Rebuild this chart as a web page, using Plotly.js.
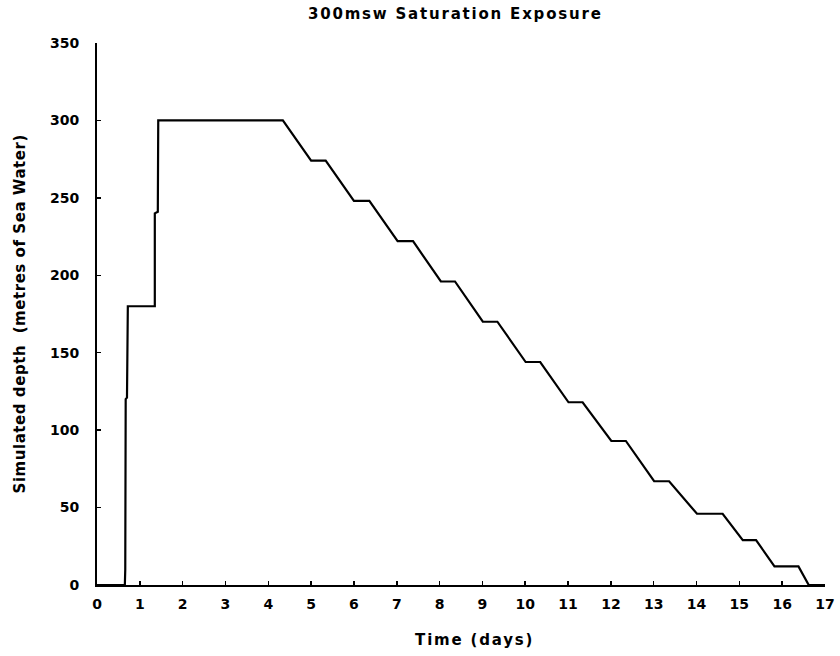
<!DOCTYPE html>
<html>
<head>
<meta charset="utf-8">
<script src="https://cdn.plot.ly/plotly-3.0.1.min.js"></script>
<style>
  html, body { margin: 0; padding: 0; background: #fff; }
  #chart { width: 840px; height: 656px; }
  #chart .gtitle { letter-spacing: 1.8px; }
</style>
</head>
<body>
<div id="chart"></div>
<script>
// Time (days) and simulated depth (msw)
const timeDays = [0, 0.65, 0.66, 0.67, 0.70, 0.72, 1.35, 1.35, 1.42, 1.43, 4.34,
  5.00, 5.34, 6.00, 6.36, 7.02, 7.38, 8.03, 8.36, 9.01, 9.35, 10.01, 10.35,
  11.01, 11.34, 12.01, 12.35, 13.01, 13.36, 14.01, 14.61, 15.08, 15.39,
  15.82, 16.38, 16.62, 17];
const depthMsw = [0, 0, 10, 120, 121, 180, 180, 240, 241, 300, 300,
  274, 274, 248, 248, 222, 222, 196, 196, 170, 170, 144, 144,
  118, 118, 93, 93, 67, 67, 46, 46, 29, 29,
  12, 12, 0, 0];

const chartTitle = '300msw Saturation Exposure';
const xTitle = 'Time (days)';
const yTitle = 'Simulated depth\u00a0\u00a0(metres of Sea Water)';

const fontFam = '"DejaVu Sans", "Liberation Sans", Arial, sans-serif';

const trace = {
  x: timeDays,
  y: depthMsw,
  type: 'scatter',
  mode: 'lines',
  line: { color: '#000', width: 2.2 },
  hoverinfo: 'skip'
};

const axisCommon = {
  showgrid: false,
  zeroline: false,
  showline: true,
  linecolor: '#000',
  linewidth: 2,
  ticks: 'inside',
  ticklen: 4,
  tickwidth: 1.5,
  tickcolor: '#000',
  tickfont: { family: fontFam, size: 14, color: '#000', weight: 'bold' },
  automargin: false
};

const layout = {
  width: 840,
  height: 656,
  margin: { l: 97, r: 15, t: 43, b: 71 },
  paper_bgcolor: '#fff',
  plot_bgcolor: '#fff',
  showlegend: false,
  font: { family: fontFam, size: 14, color: '#000', weight: 'bold' },
  title: {
    text: chartTitle,
    font: { family: fontFam, size: 15, color: '#000', weight: 'bold' },
    x: 0.542, xanchor: 'center',
    y: 0.979, yanchor: 'middle'
  },
  xaxis: Object.assign({}, axisCommon, {
    range: [0, 17], dtick: 1, tick0: 0, ticklabelstandoff: 5
  }),
  yaxis: Object.assign({}, axisCommon, {
    range: [0, 350], dtick: 50, tick0: 0, ticklabelstandoff: 13
  }),
  annotations: [
    {
      text: xTitle, xref: 'paper', yref: 'paper', x: 0.5, y: 0,
      xanchor: 'center', yanchor: 'middle', xshift: 13, yshift: -55,
      showarrow: false,
      font: { family: fontFam, size: 15, color: '#000', weight: 'bold' }
    },
    {
      text: yTitle, xref: 'paper', yref: 'paper', x: 0, y: 0.5,
      xanchor: 'center', yanchor: 'middle', xshift: -77, yshift: 0,
      textangle: -90, showarrow: false,
      font: { family: fontFam, size: 15, color: '#000', weight: 'bold' }
    }
  ]
};

Plotly.newPlot('chart', [trace], layout, { displayModeBar: false, staticPlot: true }).then(function () {
  // widen letter spacing like the reference lettering
  const ann = document.querySelectorAll('#chart .annotation-text');
  if (ann.length > 0) ann[0].style.letterSpacing = '1.8px';
  if (ann.length > 1) ann[1].style.letterSpacing = '0.55px';
});
</script>
</body>
</html>
